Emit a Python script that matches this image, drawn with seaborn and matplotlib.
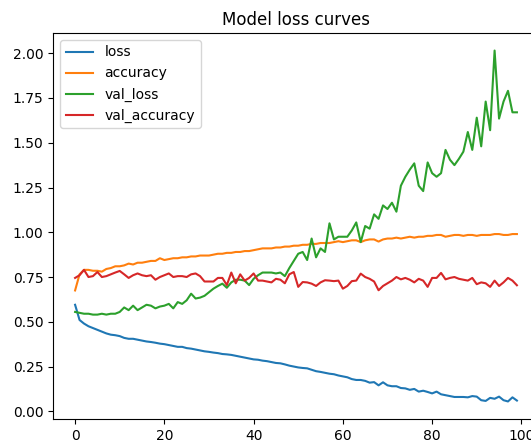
import numpy as np
import pandas as pd
import matplotlib
matplotlib.use("Agg")
import matplotlib.pyplot as plt
import seaborn as sns

epochs = list(range(100))

loss = [0.595, 0.51, 0.49, 0.475, 0.465, 0.455, 0.445, 0.435, 0.428, 0.425,
        0.42, 0.41, 0.405, 0.405, 0.40, 0.395, 0.39, 0.387, 0.383, 0.378,
        0.375, 0.37, 0.365, 0.36, 0.36, 0.353, 0.35, 0.345, 0.34, 0.335,
        0.332, 0.328, 0.325, 0.32, 0.318, 0.315, 0.31, 0.305, 0.30, 0.295,
        0.29, 0.288, 0.283, 0.28, 0.275, 0.27, 0.268, 0.262, 0.255, 0.25,
        0.245, 0.242, 0.24, 0.232, 0.224, 0.22, 0.215, 0.21, 0.207, 0.20,
        0.195, 0.19, 0.18, 0.175, 0.175, 0.17, 0.16, 0.163, 0.145, 0.162,
        0.145, 0.14, 0.14, 0.13, 0.128, 0.12, 0.125, 0.11, 0.115, 0.108,
        0.10, 0.11, 0.095, 0.09, 0.085, 0.08, 0.08, 0.08, 0.078, 0.085,
        0.082, 0.062, 0.058, 0.075, 0.07, 0.082, 0.062, 0.055, 0.078, 0.06]

accuracy = [0.675, 0.765, 0.79, 0.79, 0.785, 0.785, 0.78, 0.795, 0.80, 0.81,
            0.81, 0.815, 0.825, 0.82, 0.83, 0.83, 0.835, 0.84, 0.84, 0.855,
            0.845, 0.85, 0.855, 0.855, 0.86, 0.86, 0.865, 0.865, 0.87, 0.87,
            0.87, 0.875, 0.88, 0.88, 0.885, 0.885, 0.89, 0.89, 0.895, 0.895,
            0.90, 0.905, 0.91, 0.91, 0.91, 0.915, 0.915, 0.92, 0.92, 0.925,
            0.925, 0.93, 0.93, 0.935, 0.935, 0.94, 0.94, 0.94, 0.945, 0.95,
            0.945, 0.95, 0.955, 0.955, 0.945, 0.955, 0.96, 0.96, 0.948, 0.96,
            0.965, 0.965, 0.97, 0.965, 0.97, 0.975, 0.97, 0.975, 0.975, 0.98,
            0.98, 0.985, 0.985, 0.975, 0.98, 0.985, 0.985, 0.98, 0.985, 0.985,
            0.98, 0.985, 0.985, 0.985, 0.99, 0.99, 0.985, 0.985, 0.99, 0.99]

val_loss = [0.555, 0.55, 0.545, 0.545, 0.54, 0.54, 0.545, 0.54, 0.545, 0.545,
            0.555, 0.58, 0.565, 0.59, 0.565, 0.58, 0.595, 0.59, 0.575, 0.585,
            0.59, 0.60, 0.575, 0.61, 0.60, 0.62, 0.657, 0.63, 0.635, 0.645,
            0.665, 0.685, 0.70, 0.713, 0.69, 0.72, 0.735, 0.735, 0.73, 0.705,
            0.74, 0.76, 0.775, 0.775, 0.775, 0.77, 0.775, 0.755, 0.80, 0.84,
            0.88, 0.89, 0.845, 0.965, 0.86, 0.91, 0.89, 1.05, 0.96, 0.975,
            0.975, 0.975, 1.01, 1.055, 0.945, 1.035, 1.02, 1.10, 1.075, 1.15,
            1.13, 1.165, 1.115, 1.26, 1.31, 1.35, 1.385, 1.26, 1.23, 1.39,
            1.33, 1.31, 1.33, 1.46, 1.405, 1.375, 1.41, 1.45, 1.56, 1.46,
            1.64, 1.48, 1.73, 1.57, 2.015, 1.635, 1.73, 1.79, 1.67, 1.67]

val_accuracy = [0.745, 0.76, 0.79, 0.75, 0.755, 0.778, 0.75, 0.755, 0.765, 0.775,
                0.784, 0.765, 0.745, 0.76, 0.77, 0.76, 0.755, 0.76, 0.735, 0.75,
                0.76, 0.77, 0.75, 0.755, 0.755, 0.75, 0.765, 0.77, 0.755, 0.725,
                0.725, 0.725, 0.745, 0.745, 0.705, 0.775, 0.715, 0.765, 0.73, 0.745,
                0.77, 0.73, 0.73, 0.725, 0.72, 0.74, 0.735, 0.715, 0.765, 0.778,
                0.695, 0.722, 0.72, 0.713, 0.70, 0.72, 0.732, 0.73, 0.727, 0.73,
                0.685, 0.70, 0.727, 0.73, 0.769, 0.75, 0.74, 0.725, 0.676, 0.70,
                0.715, 0.73, 0.75, 0.737, 0.745, 0.735, 0.72, 0.74, 0.73, 0.695,
                0.745, 0.745, 0.773, 0.737, 0.745, 0.75, 0.74, 0.735, 0.73, 0.745,
                0.71, 0.72, 0.715, 0.695, 0.73, 0.70, 0.72, 0.745, 0.73, 0.704]

series_names = ["loss", "accuracy", "val_loss", "val_accuracy"]

df = pd.DataFrame({"epoch": epochs, "loss": loss, "accuracy": accuracy,
                   "val_loss": val_loss, "val_accuracy": val_accuracy})
long = df.melt(id_vars="epoch", value_vars=series_names,
               var_name="metric", value_name="value")

fig = plt.figure(figsize=(5.31, 4.43), dpi=100)
ax = fig.add_axes([53 / 531, 24 / 443, 486 / 531, 386 / 443])
sns.lineplot(data=long, x="epoch", y="value", hue="metric",
             hue_order=series_names, palette="tab10", ax=ax, linewidth=1.5)
ax.set_xlabel("")
ax.set_ylabel("")
ax.set_title("Model loss curves")
handles, labels = ax.get_legend_handles_labels()
ax.legend(handles, labels, loc="upper left")
ax.set_xticks([0, 20, 40, 60, 80, 100])
fig.savefig("out.png", dpi=100)
